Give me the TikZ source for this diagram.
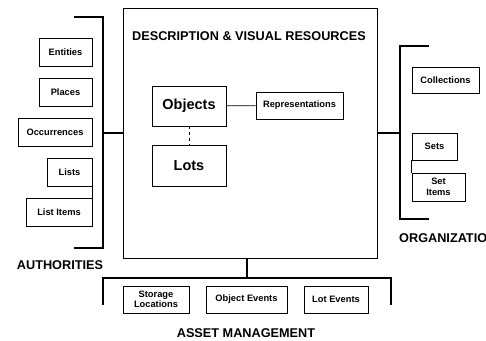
\documentclass[tikz,border=0pt]{standalone}
\usepackage{fontspec}
\setmainfont{Liberation Sans}

\begin{document}
\begin{tikzpicture}[x=1pt, y=-1pt,
        box/.style={draw, line width=0.8pt, inner sep=0pt, align=center, font=\fontsize{9.3}{10.5}\selectfont\bfseries},
        bigbox/.style={draw, line width=0.9pt, inner sep=0pt, font=\fontsize{14.5}{16}\selectfont\bfseries},
        heading/.style={inner sep=0pt, font=\fontsize{12.7}{14}\selectfont\bfseries},
        bracket/.style={line width=2pt}]
        \useasboundingbox (0,0) rectangle (486,340);
        % main area
        \node[draw, line width=0.9pt, minimum width=254pt, minimum height=250pt] (main) at (250,133) {};
        \node[heading] (desc) at (249,36) {DESCRIPTION \& VISUAL RESOURCES};
        \node[bigbox, minimum width=74pt, minimum height=40pt] (objects) at (189,106) {Objects};
        \node[bigbox, minimum width=74pt, minimum height=41pt] (lots) at (189,165.5) {Lots};
        \node[box, minimum width=87pt, minimum height=27pt] (repr) at (299.5,105.5) {Representations};
        \draw[line width=0.8pt] (objects) -- (repr);
        \draw[line width=0.8pt, dashed] (objects) -- (lots);

        % authorities
        \node[box, minimum width=53pt, minimum height=28pt] (entities) at (65.5,52) {Entities};
        \node[box, minimum width=53pt, minimum height=28pt] (places) at (65.5,92) {Places};
        \node[box, minimum width=74pt, minimum height=28pt] (occs) at (55,132) {Occurrences};
        \node[box, minimum width=45pt, minimum height=28pt] (lists) at (69.5,172) {Lists};
        \node[box, minimum width=66pt, minimum height=28pt] (listitems) at (59,212) {List Items};
        \draw[line width=0.8pt] (lists.south east) -- (listitems.north east);
        \coordinate (lt) at (74,17);
        \coordinate (lb) at (74,248);
        \coordinate (lmid) at (103,133);
        \draw[bracket] (lt) -| (lmid) |- (lb);
        \draw[bracket] (lmid) -- (main.west);
        \node[heading] (auth) at (60,265) {AUTHORITIES};

        % organization
        \node[box, minimum width=67pt, minimum height=26pt] (colls) at (445.5,80) {Collections};
        \node[box, minimum width=45pt, minimum height=27pt] (sets) at (434.5,146.5) {Sets};
        \node[box, minimum width=53pt, minimum height=28pt] (setitems) at (438.5,187) {Set\\Items};
        \draw[line width=0.8pt] (sets.south west) -- (setitems.north west);
        \coordinate (rt) at (429,46);
        \coordinate (rb) at (429,219);
        \coordinate (rmid) at (400,133);
        \draw[bracket] (rt) -| (rmid) |- (rb);
        \draw[bracket] (main.east) -- (rmid);
        \node[heading, anchor=west] (org) at (399,238) {ORGANIZATION};

        % asset management
        \node[box, minimum width=66pt, minimum height=27pt] (storage) at (156,299.5) {Storage\\Locations};
        \node[box, minimum width=81pt, minimum height=27pt] (objev) at (246.5,299.5) {Object Events};
        \node[box, minimum width=64pt, minimum height=27pt] (lotev) at (336,299.5) {Lot Events};
        \coordinate (bl) at (103,305);
        \coordinate (br) at (391,305);
        \coordinate (bmid) at (247,278);
        \draw[bracket] (bl) |- (bmid) -| (br);
        \draw[bracket] (bmid |- main.south) -- (bmid);
        \node[heading] (asset) at (246,333) {ASSET MANAGEMENT};
\end{tikzpicture}
\end{document}
